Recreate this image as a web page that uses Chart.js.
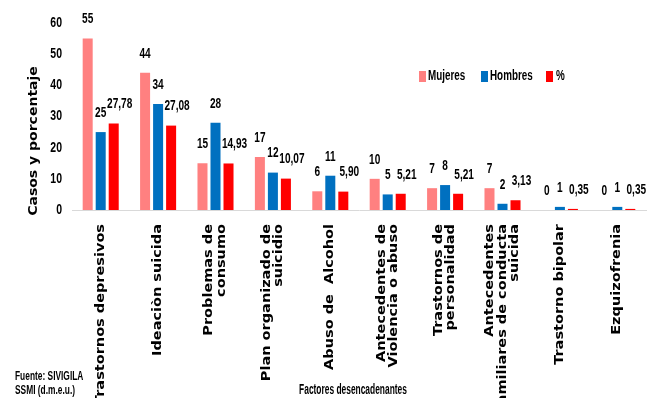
<!DOCTYPE html>
<html>
<head>
<meta charset="utf-8">
<script src="https://cdn.jsdelivr.net/npm/chart.js@4"></script>
<style>
  body { margin: 0; background: #fff; }
  #wrap { width: 647px; height: 398px; }
</style>
</head>
<body>
<div id="wrap"><canvas id="factoresChart" width="647" height="398"></canvas></div>
<script>
const categorias = [
    'Trastornos depresivos',
    'Ideaciòn suicida',
    ['Problemas de', 'consumo'],
    ['Plan organizado de', 'suicidio'],
    'Abuso de  Alcohol',
    ['Antecedentes de', 'Violencia o abuso'],
    ['Trastornos de', 'personalidad'],
    ['Antecedentes', 'familiares de conducta', 'suicida'],
    'Trastorno bipolar',
    'Ezquizofrenia'
];
const mujeres = [55, 44, 15, 17, 6, 10, 7, 7, 0, 0];
const hombres = [25, 34, 28, 12, 11, 5, 8, 2, 1, 1];
const porcentaje = [27.78, 27.08, 14.93, 10.07, 5.90, 5.21, 5.21, 3.13, 0.35, 0.35];
const ticksY = [0, 10, 20, 30, 40, 50, 60];

const narrow = '"Liberation Sans", Arial, sans-serif';
const wide = '"DejaVu Sans", Verdana, sans-serif';

// texto comprimido en horizontal (imita la fuente estrecha del original)
function ntext(c, txt, x, y, size, sx, align) {
    c.save();
    c.font = 'bold ' + size + 'px ' + narrow;
    c.textBaseline = 'middle';
    c.textAlign = 'left';
    const w = c.measureText(txt).width * sx;
    let x0 = x;
    if (align === 'center') x0 = x - w / 2;
    if (align === 'right') x0 = x - w;
    c.translate(x0, y);
    c.scale(sx, 1);
    c.fillText(txt, 0, 0);
    c.restore();
}

// etiquetas de valor, leyenda, ejes y textos sueltos
const extras = {
    id: 'extras',
    afterDatasetsDraw(chart) {
        const c = chart.ctx;
        c.save();
        c.fillStyle = '#000';

        chart.data.datasets.forEach((ds, di) => {
            const meta = chart.getDatasetMeta(di);
            meta.data.forEach((bar, i) => {
                const v = ds.data[i];
                const txt = di === 2 ? v.toFixed(2).replace('.', ',') : String(v);
                const dx = di === 2 ? 6 : 0;
                ntext(c, txt, bar.x + dx, bar.y - 19, 14, 0.72, 'center');
            });
        });

        // eje y
        const ys = chart.scales.y;
        ticksY.forEach(v => ntext(c, String(v), 62, ys.getPixelForValue(v), 14, 0.75, 'right'));

        // leyenda
        const items = [[419, 428], [481, 490], [546, 556]];
        chart.data.datasets.forEach((ds, di) => {
            c.fillStyle = ds.backgroundColor;
            c.fillRect(items[di][0], 71, 7, 11);
            c.fillStyle = '#000';
            ntext(c, ds.label, items[di][1], 76, 14.5, 0.68, 'left');
        });

        // etiquetas del eje x
        const xs = chart.scales.x;
        const lh = 12.5;
        chart.data.labels.forEach((lab, i) => {
            const lines = Array.isArray(lab) ? lab : [lab];
            const px = xs.getPixelForTick(i);
            lines.forEach((ln, j) => {
                const x = px + (j - (lines.length - 1) / 2) * lh;
                c.save();
                c.translate(x, xs.top + 14);
                c.rotate(-Math.PI / 2);
                c.scale(1, 0.82);
                c.font = 'bold 14.5px ' + wide;
                c.textAlign = 'right';
                c.textBaseline = 'middle';
                c.fillText(ln, 0, 0);
                c.restore();
            });
        });

        // titulo del eje y
        c.save();
        c.translate(34, 141);
        c.rotate(-Math.PI / 2);
        c.scale(1, 0.85);
        c.textAlign = 'center';
        c.textBaseline = 'middle';
        c.font = 'bold 14px ' + wide;
        c.fillText('Casos y porcentaje', 0, 0);
        c.restore();

        ntext(c, 'Factores desencadenantes', 353, 390, 14, 0.6, 'center');
        ntext(c, 'Fuente: SIVIGILA', 15, 376, 13.5, 0.62, 'left');
        ntext(c, 'SSMI (d.m.e.u.)', 15, 390, 13.5, 0.62, 'left');
        c.restore();
    }
};

const ctx = document.getElementById('factoresChart').getContext('2d');
const factoresChart = new Chart(ctx, {
    type: 'bar',
    data: {
        labels: categorias,
        datasets: [{
            label: 'Mujeres',
            data: mujeres,
            backgroundColor: '#FF8080'
        }, {
            label: 'Hombres',
            data: hombres,
            backgroundColor: '#0070C0'
        }, {
            label: '%',
            data: porcentaje,
            backgroundColor: '#FF0000'
        }]
    },
    options: {
        responsive: false,
        animation: false,
        categoryPercentage: 0.68,
        barPercentage: 0.77,
        layout: { padding: { top: 23, right: 1 } },
        plugins: {
            legend: { display: false },
            tooltip: { enabled: false }
        },
        scales: {
            x: {
                grid: { display: false, drawTicks: false },
                border: { color: '#D9D9D9', width: 1 },
                ticks: { display: false },
                afterFit(scale) { scale.height = 188; }
            },
            y: {
                min: 0,
                max: 60,
                afterBuildTicks(scale) { scale.ticks = ticksY.map(v => ({ value: v })); },
                grid: { display: false, drawTicks: false },
                border: { display: false },
                ticks: { display: false },
                afterFit(scale) { scale.width = 72; }
            }
        }
    },
    plugins: [extras]
});
</script>
</body>
</html>
